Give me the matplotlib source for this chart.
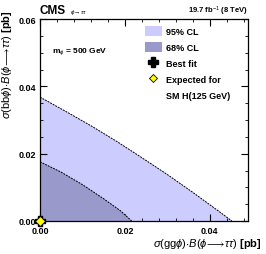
import numpy as np
import matplotlib
matplotlib.use("Agg")
import matplotlib.pyplot as plt
from matplotlib.patches import Patch
from matplotlib.lines import Line2D
from matplotlib.ticker import MultipleLocator

plt.rcParams['font.family'] = ['Liberation Sans', 'DejaVu Sans']
plt.rcParams['mathtext.fontset'] = 'custom'
plt.rcParams['mathtext.rm'] = 'Liberation Sans'
plt.rcParams['mathtext.it'] = 'Liberation Sans:italic'
plt.rcParams['mathtext.bf'] = 'Liberation Sans:bold'

# 95% CL contour boundary (ggH, bbH)
cl95_x = [0.0, 0.006, 0.012, 0.018, 0.024, 0.030, 0.036, 0.042, 0.0452]
cl95_y = [0.0368, 0.0326, 0.0283, 0.0237, 0.0188, 0.0138, 0.0085, 0.0030, 0.0]

# 68% CL contour boundary
cl68_x = [0.0, 0.005, 0.010, 0.015, 0.019, 0.0216]
cl68_y = [0.0176, 0.0145, 0.0108, 0.0066, 0.0030, 0.0]

best_fit = (0.0, 0.0)
sm_expected = (0.0, 0.0)

x_ticks = [0.00, 0.02, 0.04]
y_ticks = [0.00, 0.02, 0.04, 0.06]

c95 = '#ccccff'
c68 = '#9999cc'

fig = plt.figure(figsize=(2.66, 2.55), dpi=100)
ax = fig.add_axes([40 / 266, 33 / 255, 208 / 266, 202 / 255])

# closed regions: boundary + origin corner
ax.fill(cl95_x + [0.0], cl95_y + [0.0], color=c95, lw=0, zorder=1)
ax.fill(cl68_x + [0.0], cl68_y + [0.0], color=c68, lw=0, zorder=2)
ax.plot(cl95_x, cl95_y, color='black', lw=0.7, ls=(0, (2, 1)), zorder=3)
ax.plot(cl68_x, cl68_y, color='black', lw=0.7, ls=(0, (2, 1)), zorder=3)

ax.plot(*best_fit, marker='P', ms=7, color='black', ls='none', zorder=5, clip_on=False)
ax.plot(*sm_expected, marker='D', ms=5, mfc='#ffff00', mec='black', mew=0.6,
        ls='none', zorder=6, clip_on=False)

ax.set_xlim(0, 0.049)
ax.set_ylim(0, 0.06)
ax.set_xticks(x_ticks)
ax.set_yticks(y_ticks)
ax.set_xticklabels([f'{v:.2f}' for v in x_ticks], fontweight='bold')
ax.set_yticklabels([f'{v:.2f}' for v in y_ticks], fontweight='bold')
ax.xaxis.set_minor_locator(MultipleLocator(0.004))
ax.yaxis.set_minor_locator(MultipleLocator(0.005))
ax.tick_params(which='both', direction='in', top=True, right=True, labelsize=6.5)
ax.tick_params(axis='x', which='both', pad=3.5)
ax.tick_params(axis='y', which='both', pad=2.5)
ax.tick_params(which='major', length=5, width=0.8)
ax.tick_params(which='minor', length=2.5, width=0.6)
for s in ax.spines.values():
    s.set_linewidth(0.9)

ax.set_xlabel(r'$\sigma$(gg$\phi$)$\cdot$$\mathit{B}$($\phi\!\longrightarrow\!\tau\tau$) $\mathbf{[pb]}$',
              fontsize=8, ha='right')
ax.xaxis.set_label_coords(1.067, -0.075)
ax.set_ylabel(r'$\sigma$(bb$\phi$)$\cdot$$\mathit{B}$($\phi\!\longrightarrow\!\tau\tau$) $\mathbf{[pb]}$',
              fontsize=8, ha='right')
ax.yaxis.set_label_coords(-0.125, 1.05)

fig.text(40 / 266, 1 - 14 / 255, 'CMS', fontsize=8.5, fontweight='bold')
fig.text(70 / 266, 1 - 14 / 255, r'$\phi\!\rightarrow\!\tau\tau$', fontsize=4.5)
fig.text(248 / 266, 1 - 14 / 255, r'19.7 fb$^{-1}$ (8 TeV)', fontsize=5.5, fontweight='bold', ha='right')
ax.text(0.06, 0.84, r'm$_{\phi}$ = 500 GeV', transform=ax.transAxes, fontsize=6, fontweight='bold')

handles = [
    Patch(facecolor=c95, edgecolor='none'),
    Patch(facecolor=c68, edgecolor='none'),
    Line2D([], [], marker='P', ms=7, color='black', ls='none'),
    Line2D([], [], marker='D', ms=4.5, mfc='#ffff00', mec='black', mew=0.6, ls='none'),
    Line2D([], [], ls='none'),
]
labels = ['95% CL', '68% CL', 'Best fit', 'Expected for', 'SM H(125 GeV)']
leg = ax.legend(handles, labels, loc='upper left', bbox_to_anchor=(0.47, 1.0), frameon=False,
                prop={'size': 6.5, 'weight': 'bold'}, handlelength=1.9, handleheight=1.3,
                labelspacing=0.67, handletextpad=0.5, borderaxespad=0.35)

fig.savefig('out.png', dpi=100)
